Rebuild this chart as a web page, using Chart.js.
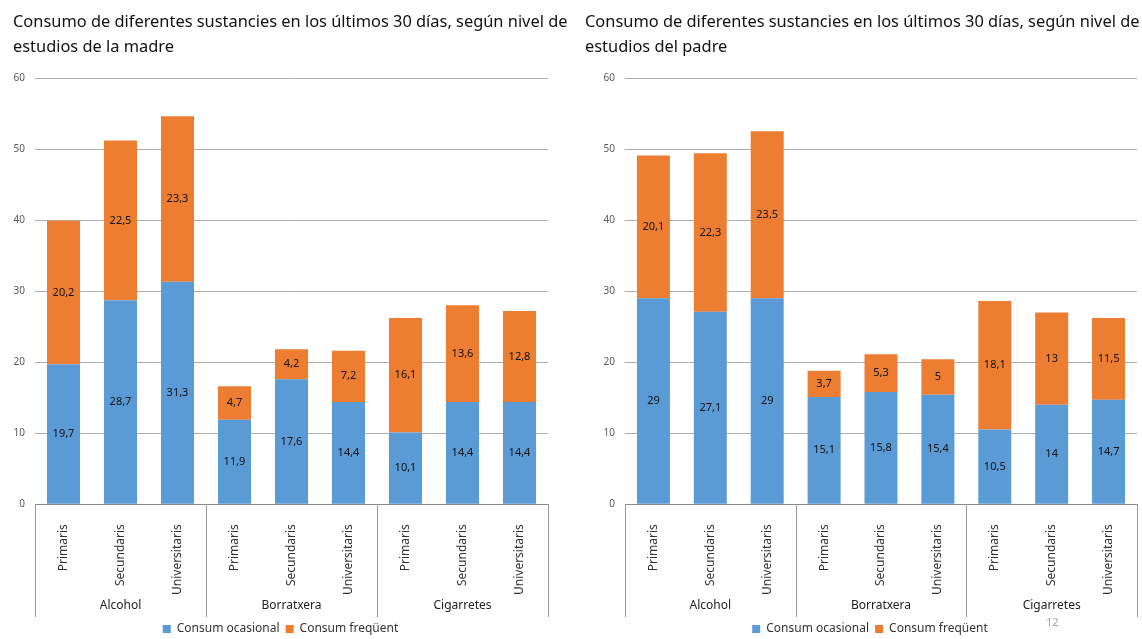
<!DOCTYPE html>
<html>
<head>
<meta charset="utf-8">
<script src="https://cdn.jsdelivr.net/npm/chart.js@4"></script>
<style>
  body { margin: 0; background: #fff; width: 1142px; height: 639px; overflow: hidden; position: relative; }
  .box { position: absolute; top: 0; height: 645px; }
  .title { position: absolute; top: 8px; font: 16.4px/25px "Noto Sans", sans-serif; color: #111; white-space: nowrap; }
  #pageNum { position: absolute; left: 1046px; top: 614px; font: 11px "Noto Sans", sans-serif; color: #a0a0a0; }
</style>
</head>
<body>
<div class="box" style="left:0;width:572px"><canvas id="chartMadre"></canvas></div>
<div class="box" style="left:603px;width:539px"><canvas id="chartPadre"></canvas></div>
<div class="title" style="left:13px">Consumo de diferentes sustancies en los últimos 30 días, según nivel de<br>estudios de la madre</div>
<div class="title" style="left:585px">Consumo de diferentes sustancies en los últimos 30 días, según nivel de<br>estudios del padre</div>
<div id="pageNum">12</div>
<script>
// Categories
var levels = ['Primaris', 'Secundaris', 'Universitaris', 'Primaris', 'Secundaris', 'Universitaris', 'Primaris', 'Secundaris', 'Universitaris'];
var groups = ['Alcohol', 'Borratxera', 'Cigarretes'];
var seriesNames = ['Consum ocasional', 'Consum freqüent'];

// Estudios de la madre
var madreOcasional = [19.7, 28.7, 31.3, 11.9, 17.6, 14.4, 10.1, 14.4, 14.4];
var madreFrequent = [20.2, 22.5, 23.3, 4.7, 4.2, 7.2, 16.1, 13.6, 12.8];

// Estudios del padre
var padreOcasional = [29, 27.1, 29, 15.1, 15.8, 15.4, 10.5, 14, 14.7];
var padreFrequent = [20.1, 22.3, 23.5, 3.7, 5.3, 5, 18.1, 13, 11.5];

var FONT = '"Noto Sans", sans-serif';

// draw the value in the middle of every bar segment
var valueLabels = {
  id: 'valueLabels',
  afterDatasetsDraw: function (chart) {
    var ctx = chart.ctx;
    ctx.save();
    ctx.font = '11px ' + FONT;
    ctx.fillStyle = '#111';
    ctx.textAlign = 'center';
    ctx.textBaseline = 'middle';
    chart.data.datasets.forEach(function (ds, i) {
      chart.getDatasetMeta(i).data.forEach(function (bar, j) {
        var p = bar.getCenterPoint();
        ctx.fillText(String(ds.data[j]).replace('.', ','), p.x, p.y);
      });
    });
    ctx.restore();
  }
};

// second level of the x axis: group names and separators
var groupAxis = {
  id: 'groupAxis',
  afterDraw: function (chart) {
    var x = chart.scales.x;
    var ctx = chart.ctx;
    var per = levels.length / groups.length;
    ctx.save();
    ctx.strokeStyle = '#9a9a9a';
    ctx.lineWidth = 1;
    var edges = [x.left];
    for (var g = 1; g < groups.length; g++) {
      edges.push((x.getPixelForValue(g * per - 1) + x.getPixelForValue(g * per)) / 2);
    }
    edges.push(x.right);
    edges.forEach(function (e) {
      var px = Math.round(e) + 0.5;
      ctx.beginPath();
      ctx.moveTo(px, x.top);
      ctx.lineTo(px, x.bottom);
      ctx.stroke();
    });
    ctx.font = '12px ' + FONT;
    ctx.fillStyle = '#222';
    ctx.textAlign = 'center';
    ctx.textBaseline = 'middle';
    groups.forEach(function (name, g) {
      ctx.fillText(name, x.getPixelForValue(g * per + 1), x.bottom - 11);
    });
    ctx.restore();
  }
};

function makeChart(id, ocasional, frequent, padLeft, padRight) {
  return new Chart(document.getElementById(id).getContext('2d'), {
    type: 'bar',
    data: {
      labels: levels,
      datasets: [{
        label: seriesNames[0],
        data: ocasional,
        backgroundColor: '#5b9bd5'
      }, {
        label: seriesNames[1],
        data: frequent,
        backgroundColor: '#ed7d31'
      }]
    },
    options: {
      responsive: true,
      maintainAspectRatio: false,
      animation: false,
      layout: { padding: { left: padLeft, right: padRight, top: 78, bottom: 0 } },
      datasets: { bar: { categoryPercentage: 1, barPercentage: 0.58 } },
      scales: {
        x: {
          stacked: true,
          grid: { display: false },
          border: { color: '#8c8c8c' },
          ticks: { minRotation: 90, maxRotation: 90, padding: 12, color: '#333', font: { family: FONT, size: 12 } },
          afterFit: function (scale) { scale.height += 10; }
        },
        y: {
          stacked: true,
          min: 0,
          max: 60,
          ticks: { stepSize: 10, padding: 10, color: '#595959', font: { family: FONT, size: 10 } },
          grid: { color: '#adadad', drawTicks: false },
          border: { display: false },
          afterFit: function (scale) { scale.width = 22; }
        }
      },
      plugins: {
        legend: {
          position: 'bottom',
          labels: { boxWidth: 8, boxHeight: 8, padding: 6, color: '#333', font: { family: FONT, size: 12 } }
        },
        tooltip: { enabled: false }
      }
    },
    plugins: [valueLabels, groupAxis]
  });
}

makeChart('chartMadre', madreOcasional, madreFrequent, 13, 24);
makeChart('chartPadre', padreOcasional, padreFrequent, 0, 5);
</script>
</body>
</html>
